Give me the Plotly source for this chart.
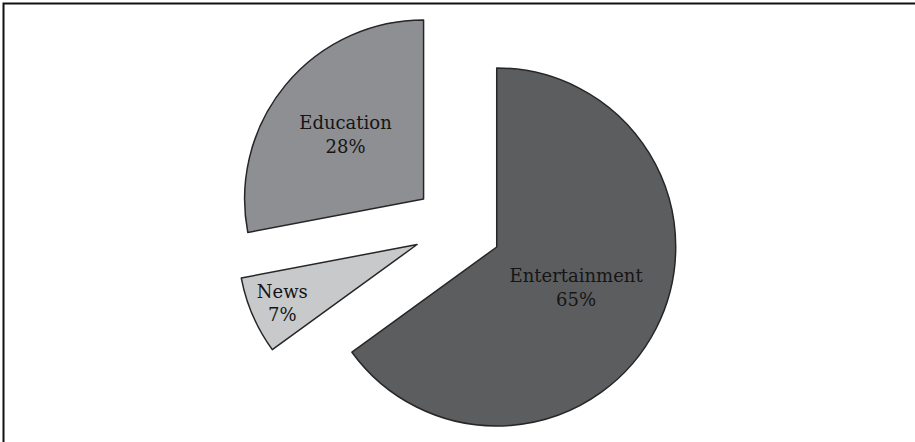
import plotly.graph_objects as go

categories = ["Entertainment", "News", "Education"]
values = [65, 7, 28]
colors = ["#5c5d5f", "#c8c9cb", "#8e8f93"]
pulls = [0.246, 0.246, 0.246]

fig = go.Figure(go.Pie(
    labels=categories,
    values=values,
    sort=False,
    direction="clockwise",
    rotation=0,
    pull=pulls,
    marker=dict(colors=colors, line=dict(color="#262626", width=1.5)),
    textinfo="label+percent",
    textposition="inside",
    insidetextorientation="horizontal",
    textfont=dict(family="DejaVu Serif", size=18, color="#151515"),
    showlegend=False,
    hoverinfo="skip",
))

fig.update_layout(
    width=915,
    height=450,
    margin=dict(l=0, r=0, t=4, b=0),
    paper_bgcolor="white",
    plot_bgcolor="white",
    uniformtext=dict(mode="show", minsize=18),
    shapes=[dict(type="rect", xref="paper", yref="paper",
                 x0=3.5 / 915, x1=1.05, y0=-0.05, y1=1 + (4 - 3.5) / 446,
                 line=dict(color="#111111", width=2), fillcolor="rgba(0,0,0,0)")],
)

fig.write_html(
    "out.html",
    config={"displayModeBar": False},
    post_script="document.body.style.margin='0';document.body.style.overflow='hidden';",
)
